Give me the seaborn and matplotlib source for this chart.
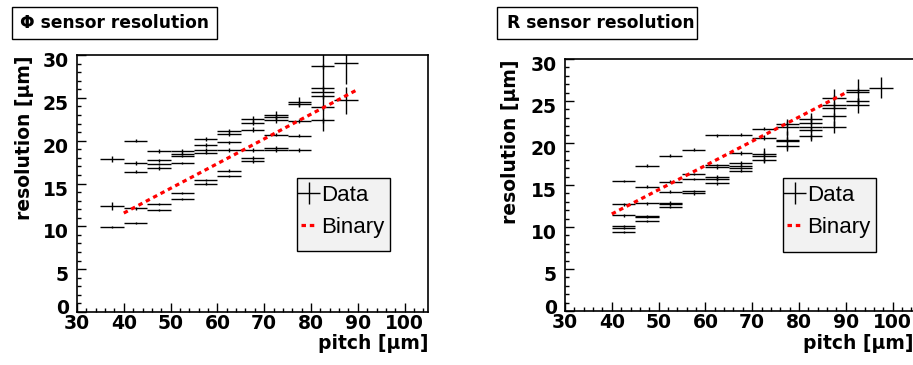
import numpy as np
import pandas as pd
import matplotlib
matplotlib.use("Agg")
import matplotlib.pyplot as plt
from matplotlib.ticker import MultipleLocator
from matplotlib.patches import Rectangle
from matplotlib.transforms import ScaledTranslation
import seaborn as sns

# ---------------- data ----------------
bin_half_width = 2.5

phi_pitch = ([37.5] * 3 + [42.5] * 5 + [47.5] * 6 + [52.5] * 6 + [57.5] * 6 +
             [62.5] * 6 + [67.5] * 6 + [72.5] * 6 + [77.5] * 5 + [82.5] * 6 + [87.5] * 2)
phi_res = [17.85, 12.4, 9.9,
           20.0, 17.4, 16.4, 12.1, 10.4,
           18.8, 17.7, 17.3, 16.8, 12.6, 11.9,
           18.8, 18.5, 18.2, 17.4, 13.9, 13.2,
           20.2, 19.5, 18.9, 18.6, 15.4, 15.0,
           21.1, 20.8, 19.8, 18.9, 16.5, 15.9,
           22.5, 22.1, 21.3, 18.9, 18.0, 17.6,
           23.0, 22.8, 22.4, 20.7, 19.2, 18.9,
           24.5, 24.3, 22.3, 20.6, 18.9,
           28.7, 26.1, 25.7, 25.2, 23.9, 22.4,
           29.1, 24.7]
phi_err = [0.35, 0.45, 0.15,
           0.2, 0.2, 0.15, 0.15, 0.15,
           0.2, 0.2, 0.15, 0.2, 0.15, 0.15,
           0.2, 0.2, 0.15, 0.15, 0.15, 0.15,
           0.25, 0.2, 0.2, 0.15, 0.15, 0.15,
           0.25, 0.2, 0.2, 0.2, 0.2, 0.15,
           0.4, 0.3, 0.25, 0.2, 0.2, 0.2,
           0.5, 0.3, 0.3, 0.2, 0.2, 0.2,
           0.6, 0.3, 0.2, 0.2, 0.2,
           0.3, 0.3, 4.6, 0.3, 0.3, 0.3,
           2.5, 1.6]

r_pitch = ([42.5] * 6 + [47.5] * 6 + [52.5] * 6 + [57.5] * 5 + [62.5] * 6 +
           [67.5] * 6 + [72.5] * 5 + [77.5] * 5 + [82.5] * 5 + [87.5] * 5 + [92.5] * 4 + [97.5])
r_res = [15.5, 12.7, 11.4, 10.1, 9.9, 9.4,
         17.3, 14.8, 12.8, 11.3, 11.2, 10.7,
         18.5, 15.4, 14.2, 12.9, 12.7, 12.4,
         19.2, 16.3, 15.7, 14.3, 14.0,
         20.9, 17.4, 17.1, 15.9, 15.7, 15.2,
         21.0, 18.8, 17.6, 17.3, 17.0, 16.7,
         21.7, 20.6, 18.7, 18.5, 18.0,
         22.3, 21.9, 20.4, 20.2, 19.6,
         22.9, 22.4, 21.9, 21.6, 20.8,
         25.4, 24.5, 24.2, 23.2, 21.9,
         26.3, 26.1, 25.0, 24.5,
         26.6]
r_err = [0.15, 0.2, 0.15, 0.15, 0.15, 0.15,
         0.15, 0.15, 0.15, 0.15, 0.15, 0.15,
         0.15, 0.15, 0.15, 0.15, 0.15, 0.15,
         0.2, 0.15, 0.15, 0.15, 0.15,
         0.15, 0.15, 0.15, 0.3, 0.2, 0.15,
         0.15, 0.2, 0.2, 0.15, 0.15, 0.15,
         0.2, 0.3, 0.3, 0.9, 0.3,
         0.3, 1.0, 0.3, 1.2, 0.3,
         0.3, 0.3, 1.7, 0.3, 0.3,
         0.3, 0.4, 2.2, 0.4, 0.7,
         0.3, 1.5, 0.3, 0.9,
         1.2]

binary_pitch = [40, 90]
binary_res = [11.55, 25.98]

titles = ["\u03a6 sensor resolution", "R sensor resolution"]

# ---------------- style ----------------
sns.set_style("white")
plt.rcParams['font.family'] = ['DejaVu Sans']
plt.rcParams['text.color'] = 'black'
plt.rcParams['axes.labelcolor'] = 'black'
plt.rcParams['xtick.color'] = 'black'
plt.rcParams['ytick.color'] = 'black'
plt.rcParams['legend.labelcolor'] = 'black'

W, H = 913, 365
fig = plt.figure(figsize=(W / 100, H / 100), dpi=100)
fig.patch.set_facecolor('white')


def fx(px):
    return px / W


def fy(py):
    return 1 - py / H


ax_specs = [
    dict(x0=77, x1=428, top=55, bot=312, ylab_x=24, title_box=(12, 217), title_x=20,
         pitch=phi_pitch, res=phi_res, err=phi_err, title=titles[0],
         leg=(297, 178, 390, 251), right_spine=True),
    dict(x0=565, x1=916, top=59, bot=311, ylab_x=511, title_box=(497, 697), title_x=507,
         pitch=r_pitch, res=r_res, err=r_err, title=titles[1],
         leg=(783, 178, 876, 252), right_spine=False),
]

for spec in ax_specs:
    ax_w = spec['x1'] - spec['x0']
    ax_h = spec['bot'] - spec['top']
    ax = fig.add_axes([fx(spec['x0']), fy(spec['bot']), ax_w / W, ax_h / H])
    ax.set_facecolor('white')
    df = pd.DataFrame({'pitch': spec['pitch'], 'res': spec['res'], 'err': spec['err']})
    ax.errorbar(df['pitch'], df['res'], xerr=bin_half_width, yerr=df['err'],
                fmt='none', ecolor='black', elinewidth=1.0, capsize=0, label='Data')
    sns.lineplot(x=binary_pitch, y=binary_res, ax=ax, color='red', lw=2.3,
                 linestyle=(0, (1.4, 1.2)), label='Binary')
    ax.set_xlim(30, 105)
    ax.set_ylim(0, 30)
    ax.set_xlabel('')
    ax.set_ylabel('')
    ax.xaxis.set_major_locator(MultipleLocator(10))
    ax.xaxis.set_minor_locator(MultipleLocator(2))
    ax.yaxis.set_major_locator(MultipleLocator(5))
    ax.yaxis.set_minor_locator(MultipleLocator(1))
    ax.tick_params(which='both', direction='in', top=False, right=False,
                   bottom=True, left=True, color='black', labelcolor='black', width=1.0)
    ax.tick_params(which='major', length=6.5)
    ax.tick_params(which='minor', length=3.2)
    ax.tick_params(axis='x', which='major', pad=1.5)
    ax.tick_params(axis='y', which='major', pad=6)
    for lab in ax.get_xticklabels() + ax.get_yticklabels():
        lab.set_fontsize(13.5)
        lab.set_fontweight('bold')
    # ROOT-like label placement: y labels slightly below ticks, "0" raised
    for tick, val in zip(ax.yaxis.get_major_ticks(), ax.get_yticks()):
        dy = 5.0 if abs(val) < 1e-9 else -4.5
        tick.label1.set_transform(tick.label1.get_transform() +
                                  ScaledTranslation(0, dy / 100, fig.dpi_scale_trans))
    for s in ax.spines.values():
        s.set_color('black')
        s.set_linewidth(1.2)
        s.set_visible(True)
    if not spec['right_spine']:
        ax.spines['right'].set_visible(False)

    # legend: box drawn as a patch, entries placed inside
    handles, labels = ax.get_legend_handles_labels()
    order = [labels.index('Data'), labels.index('Binary')]
    lx0, ly0, lx1, ly1 = spec['leg']
    ax.add_patch(Rectangle((fx(lx0), fy(ly1)), (lx1 - lx0) / W, (ly1 - ly0) / H,
                           transform=fig.transFigure, facecolor='#f2f2f2',
                           edgecolor='black', lw=1.0, zorder=6, clip_on=False))
    leg = ax.legend([handles[i] for i in order], [labels[i] for i in order],
                    loc='upper left',
                    bbox_to_anchor=((lx0 + 3.5 - spec['x0']) / ax_w,
                                    (spec['bot'] - (ly0 + 7)) / ax_h),
                    prop={'family': 'Liberation Sans', 'size': 16},
                    frameon=False, borderpad=0, handlelength=0.72, handletextpad=0.2,
                    labelspacing=0.5, borderaxespad=0, labelcolor='black')
    leg.set_zorder(10)

    # y label
    fig.text(fx(spec['ylab_x']), fy(spec['top']), 'resolution [\u03bcm]', rotation=90,
             ha='center', va='top', fontsize=13.5, fontweight='bold', color='black')
    # x label
    fig.text(fx(min(spec['x1'], W)), fy(334), 'pitch [\u03bcm]', ha='right', va='top',
             fontsize=13.5, fontweight='bold', color='black')
    # title box
    bx0, bx1 = spec['title_box']
    fig.patches.append(Rectangle((fx(bx0), fy(39)), (bx1 - bx0) / W, 32 / H,
                                 transform=fig.transFigure, facecolor='white',
                                 edgecolor='black', lw=1.0, zorder=0))
    fig.text(fx(spec['title_x']), fy(23.5), spec['title'], ha='left', va='center',
             fontsize=12.3, fontweight='bold', color='black')

fig.savefig('out.png', dpi=100)
